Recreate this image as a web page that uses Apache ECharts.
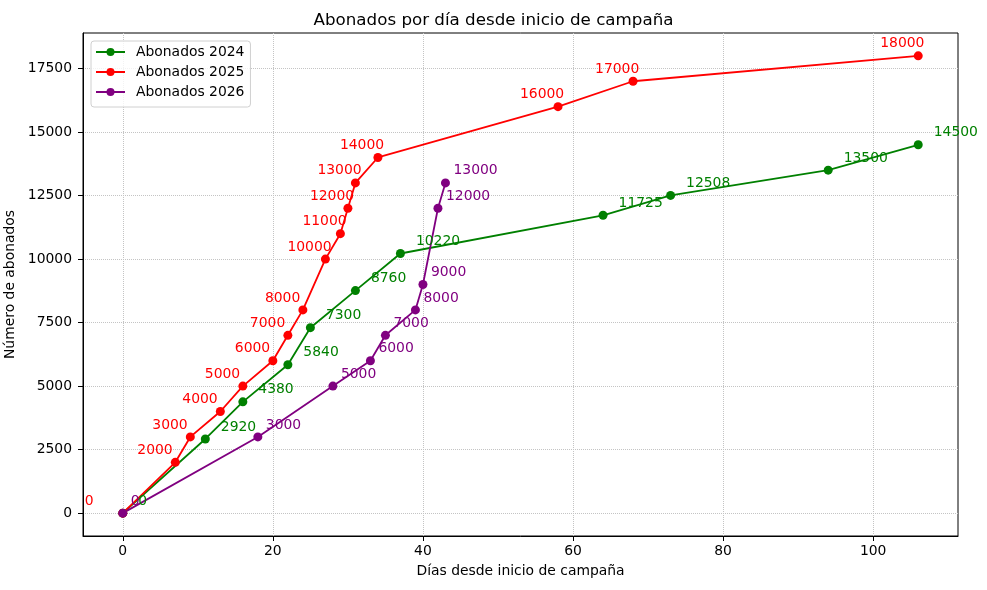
<!DOCTYPE html>
<html>
<head>
<meta charset="utf-8">
<script src="https://cdn.jsdelivr.net/npm/echarts@6/dist/echarts.min.js"></script>
<style>
  html, body { margin: 0; padding: 0; background: #fff; }
  #chart { width: 987px; height: 590px; }
</style>
</head>
<body>
<div id="chart"></div>
<script>
// datos
var dias2024 = [0, 11, 16, 22, 25, 31, 37, 64, 73, 94, 106];
var abonados2024 = [0, 2920, 4380, 5840, 7300, 8760, 10220, 11725, 12508, 13500, 14500];

var dias2025 = [0, 7, 9, 13, 16, 20, 22, 24, 27, 29, 30, 31, 34, 58, 68, 106];
var abonados2025 = [0, 2000, 3000, 4000, 5000, 6000, 7000, 8000, 10000, 11000, 12000, 13000, 14000, 16000, 17000, 18000];

var dias2026 = [0, 18, 28, 33, 35, 39, 40, 42, 43];
var abonados2026 = [0, 3000, 5000, 6000, 7000, 8000, 9000, 12000, 13000];

var xTicks = [0, 20, 40, 60, 80, 100];
var yTicks = [0, 2500, 5000, 7500, 10000, 12500, 15000, 17500];

var fuente = 'DejaVu Sans';

function pares(xs, ys) {
    var out = [];
    for (var i = 0; i < xs.length; i++) {
        out.push([xs[i], ys[i]]);
    }
    return out;
}

function serie(nombre, xs, ys, color, offset) {
    return {
        name: nombre,
        type: 'line',
        data: pares(xs, ys),
        symbol: 'circle',
        symbolSize: 9,
        color: color,
        lineStyle: { width: 1.8, color: color },
        itemStyle: { color: color },
        label: {
            show: true,
            position: 'inside',
            align: 'left',
            verticalAlign: 'middle',
            offset: offset,
            color: color,
            fontFamily: fuente,
            fontSize: 13.9,
            formatter: function (p) { return p.value[1]; }
        },
        emphasis: { disabled: true },
        animation: false
    };
}

var myChart = echarts.init(document.getElementById('chart'));

var option = {
    backgroundColor: '#ffffff',
    title: {
        text: 'Abonados por día desde inicio de campaña',
        left: 'center',
        top: 7,
        textStyle: {
            fontFamily: fuente,
            fontSize: 16.7,
            fontWeight: 'normal',
            color: '#000'
        }
    },
    legend: {
        orient: 'vertical',
        left: 91,
        top: 41,
        data: ['Abonados 2024', 'Abonados 2025', 'Abonados 2026'],
        itemWidth: 29,
        itemHeight: 10,
        itemGap: 6,
        padding: [4, 6, 8, 4],
        borderColor: '#d0d0d0',
        borderWidth: 1,
        borderRadius: 3,
        backgroundColor: 'rgba(255,255,255,0.8)',
        textStyle: {
            fontFamily: fuente,
            fontSize: 13.9,
            color: '#000',
            padding: [0, 0, 0, 6]
        }
    },
    grid: {
        left: 83,
        right: 29,
        top: 33,
        bottom: 54,
        containLabel: false,
        outerBoundsMode: 'none',
        show: true,
        borderColor: '#000',
        borderWidth: 1
    },
    xAxis: {
        type: 'value',
        min: -5.3,
        max: 111.3,
        name: 'Días desde inicio de campaña',
        nameLocation: 'middle',
        nameGap: 28,
        nameTextStyle: { fontFamily: fuente, fontSize: 13.9, color: '#000' },
        axisLine: { show: true, onZero: false, lineStyle: { color: '#000', width: 1 } },
        axisTick: { show: true, inside: false, length: 5, customValues: xTicks, lineStyle: { color: '#000' } },
        axisLabel: { customValues: xTicks, margin: 8, fontFamily: fuente, fontSize: 13.9, color: '#000' },
        splitLine: { show: true, lineStyle: { type: 'dotted', color: '#c4c4c4', width: 1 } }
    },
    yAxis: {
        type: 'value',
        min: -900,
        max: 18900,
        name: 'Número de abonados',
        nameLocation: 'middle',
        nameGap: 59,
        nameTextStyle: { fontFamily: fuente, fontSize: 13.9, color: '#000' },
        axisLine: { show: true, onZero: false, lineStyle: { color: '#000', width: 1 } },
        axisTick: { show: true, inside: false, length: 5, customValues: yTicks, lineStyle: { color: '#000' } },
        axisLabel: {
            customValues: yTicks,
            margin: 11,
            fontFamily: fuente,
            fontSize: 13.9,
            color: '#000',
            formatter: function (v) { return String(v); }
        },
        splitLine: { show: true, lineStyle: { type: 'dotted', color: '#c4c4c4', width: 1 } }
    },
    series: [
        serie('Abonados 2024', dias2024, abonados2024, '#008000', [15.5, -12]),
        serie('Abonados 2025', dias2025, abonados2025, '#ff0000', [-38, -12]),
        serie('Abonados 2026', dias2026, abonados2026, '#800080', [8, -12])
    ]
};

myChart.setOption(option);
</script>
</body>
</html>
